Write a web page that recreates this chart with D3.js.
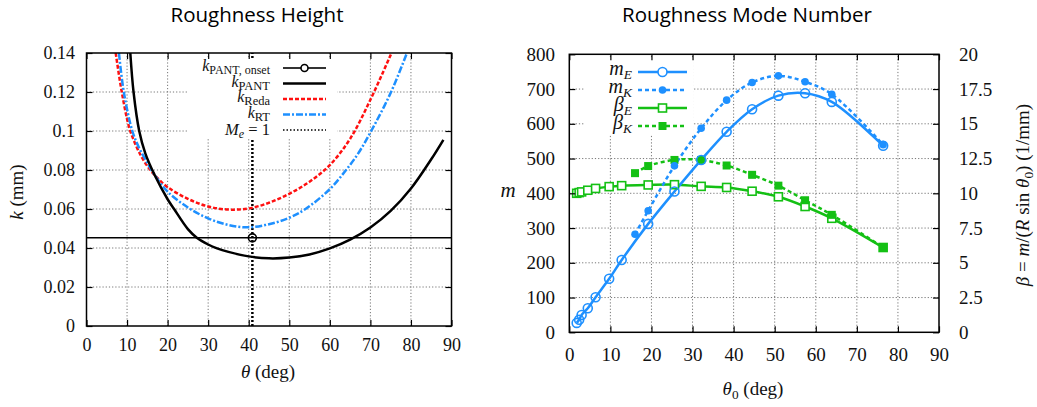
<!DOCTYPE html>
<html><head><meta charset="utf-8">
<script src="https://cdn.jsdelivr.net/npm/d3@7"></script>
<style>body{margin:0;background:#fff}</style>
</head><body>
<svg id="c" width="1037" height="407" xmlns="http://www.w3.org/2000/svg"></svg>
<script>
// ---------- DATA: Roughness Height ----------
const thetaPANT = [10.8, 11.6, 13, 14.5, 16.8, 20, 21.6, 25, 27.2, 30, 32.2, 35, 40, 45, 50, 55, 60, 65, 70, 75, 80, 85, 88];
const kPANT     = [0.14, 0.12, 0.10, 0.0885, 0.0774, 0.0650, 0.0600, 0.0497, 0.0453, 0.0418, 0.0398, 0.0380, 0.0357, 0.0347, 0.0351, 0.0367, 0.0398, 0.0443, 0.0505, 0.0590, 0.0705, 0.0855, 0.0955];
const thetaReda = [7.2, 8.7, 10.5, 12, 13.5, 15, 16.8, 20, 25, 30, 35, 40, 45, 50, 55, 60, 65, 70, 75.2];
const kReda     = [0.14, 0.12, 0.102, 0.0935, 0.087, 0.082, 0.0774, 0.0712, 0.0652, 0.0613, 0.0597, 0.0603, 0.0632, 0.0678, 0.0740, 0.0825, 0.0960, 0.1160, 0.14];
const thetaRT   = [8.0, 9.2, 11.3, 13, 14.5, 16.8, 20, 25, 30, 35, 40, 45, 50, 54, 60, 64, 67, 70.2, 75.1, 79];
const kRT       = [0.14, 0.12, 0.10, 0.0912, 0.0855, 0.0774, 0.0689, 0.0608, 0.0552, 0.0518, 0.0506, 0.0522, 0.0555, 0.0600, 0.0702, 0.0800, 0.0885, 0.1000, 0.1200, 0.14];
const kOnset = 0.0452;
const thetaOnset = 40.9;
const xTicksL = [0, 10, 20, 30, 40, 50, 60, 70, 80, 90];
const xTickLabelsL = ["0","10","20","30","40","50","60","70","80","90"];
const yTicksL = [0, 0.02, 0.04, 0.06, 0.08, 0.1, 0.12, 0.14];
const yTickLabelsL = ["0","0.02","0.04","0.06","0.08","0.1","0.12","0.14"];

// ---------- DATA: Roughness Mode Number ----------
const thetaE = [1.8, 2.4, 3.0, 4.5, 6.4, 9.7, 12.75, 19.2, 25.6, 32.1, 38.3, 44.5, 50.9, 57.4, 63.9, 76.4];
const mE     = [27, 36, 50, 69, 101, 154, 208, 312, 405, 496, 577, 642, 681, 688, 663, 537];
const betaE  = [10.0, 10.05, 10.1, 10.22, 10.35, 10.48, 10.55, 10.6, 10.62, 10.5, 10.42, 10.15, 9.75, 9.05, 8.2, 6.1];
const thetaK = [16.0, 19.2, 25.6, 32.1, 38.3, 44.5, 50.9, 57.4, 63.9, 76.4];
const mK     = [282, 350, 479, 587, 668, 719, 738, 721, 685, 540];
const betaK  = [11.45, 11.96, 12.4, 12.4, 12.0, 11.33, 10.55, 9.5, 8.45, 6.1];
const xTicksR = [0, 10, 20, 30, 40, 50, 60, 70, 80, 90];
const xTickLabelsR = ["0","10","20","30","40","50","60","70","80","90"];
const yTicksR = [0, 100, 200, 300, 400, 500, 600, 700, 800];
const yTickLabelsR = ["0","100","200","300","400","500","600","700","800"];
const y2TicksR = [0, 2.5, 5, 7.5, 10, 12.5, 15, 17.5, 20];
const y2TickLabelsR = ["0","2.5","5","7.5","10","12.5","15","17.5","20"];

// ---------- STYLE ----------
const SERIF = "'Liberation Serif', 'Times New Roman', serif";
const SANS = "'Open Sans', Lato, sans-serif";
const BLUE = "#1e90ff", RED = "#ff1010", GREEN = "#14c014", GRID = "#666";
const svg = d3.select("#c");
const zip = (a, b) => a.map((v, i) => [v, b[i]]);

function serifText(sel, size) {
  sel.attr("font-family", SERIF).style("font-family", SERIF)
    .attr("font-size", size).style("font-size", size + "px").attr("fill", "#111");
}

function richText(g, x, y, parts, size, anchor, transform) {
  const t = g.append("text").attr("x", x).attr("y", y).attr("text-anchor", anchor || "start");
  serifText(t, size);
  if (transform) t.attr("transform", transform);
  let shift = 0;
  parts.forEach(p => {
    const ts = t.append("tspan").text(p.t);
    if (p.i) ts.style("font-style", "italic");
    const want = p.sub ? (p.d != null ? p.d : 0.22 * size) : 0;
    const dy = want - shift;
    if (dy !== 0) ts.attr("dy", dy);
    shift = want;
    if (p.sub) ts.style("font-size", (p.fs || size * 0.7) + "px");
  });
  return t;
}

function grid(g, x, y, xt, yt) {
  const [x0, x1] = x.range(), [y0, y1] = y.range();
  g.append("g").selectAll("line").data(xt.filter(d => d > xt[0] && d < xt[xt.length - 1])).join("line")
    .attr("x1", d => x(d)).attr("x2", d => x(d)).attr("y1", y0).attr("y2", y1)
    .attr("stroke", GRID).attr("stroke-width", 0.9).attr("stroke-dasharray", "1.2,2");
  g.append("g").selectAll("line").data(yt.filter(d => d > yt[0] && d < yt[yt.length - 1])).join("line")
    .attr("y1", d => y(d)).attr("y2", d => y(d)).attr("x1", x0).attr("x2", x1)
    .attr("stroke", GRID).attr("stroke-width", 0.9).attr("stroke-dasharray", "1.2,2");
}

function ticksAndFrame(g, x, y, xt, xl, yt, yl, fs, padX, padY) {
  const [x0, x1] = x.range(), [y0, y1] = y.range();
  const ax = g.append("g").attr("transform", `translate(0,${y0})`)
    .call(d3.axisBottom(x).tickValues(xt).tickSize(-6).tickPadding(padX).tickFormat((d, i) => xl[i]));
  const ay = g.append("g").attr("transform", `translate(${x0},0)`)
    .call(d3.axisLeft(y).tickValues(yt).tickSize(-6).tickPadding(padY).tickFormat((d, i) => yl[i]));
  g.append("g").attr("transform", `translate(0,${y1})`)
    .call(d3.axisTop(x).tickValues(xt).tickSize(-6).tickFormat(""));
  [ax, ay].forEach(a => { serifText(a, fs); serifText(a.selectAll("text"), fs); });
  g.selectAll(".domain").remove();
  g.selectAll(".tick line").attr("stroke", "#000").attr("stroke-width", 1.2);
  g.append("rect").attr("x", x0).attr("y", y1).attr("width", x1 - x0).attr("height", y0 - y1)
    .attr("fill", "none").attr("stroke", "#000").attr("stroke-width", 1.5);
}

// ================= LEFT CHART =================
const xL = d3.scaleLinear().domain([0, 90]).range([86.5, 451.5]);
const yL = d3.scaleLinear().domain([0, 0.14]).range([326, 53]);
const gL = svg.append("g");
svg.append("text").attr("x", 257).attr("y", 21.5).attr("text-anchor", "middle")
  .style("font-family", SANS).style("font-size", "20.5px").attr("fill", "#000").text("Roughness Height");
grid(gL, xL, yL, xTicksL, yTicksL);

svg.append("defs").append("clipPath").attr("id", "clipL").append("rect")
  .attr("x", 86.5).attr("y", 53).attr("width", 365).attr("height", 273);
const lineL = d3.line().x(d => xL(d[0])).y(d => yL(d[1])).curve(d3.curveCatmullRom.alpha(0.5));
const pl = gL.append("g").attr("clip-path", "url(#clipL)");
pl.append("line").attr("x1", xL(0)).attr("x2", xL(90)).attr("y1", yL(kOnset)).attr("y2", yL(kOnset))
  .attr("stroke", "#000").attr("stroke-width", 1.5);
pl.append("line").attr("x1", xL(thetaOnset)).attr("x2", xL(thetaOnset)).attr("y1", yL(0)).attr("y2", yL(0.14))
  .attr("stroke", "#000").attr("stroke-width", 2.5).attr("stroke-dasharray", "2,2");
pl.append("path").attr("d", lineL(zip(thetaReda, kReda))).attr("fill", "none")
  .attr("stroke", RED).attr("stroke-width", 2.5).attr("stroke-dasharray", "4,2");
pl.append("path").attr("d", lineL(zip(thetaRT, kRT))).attr("fill", "none")
  .attr("stroke", BLUE).attr("stroke-width", 2.5).attr("stroke-dasharray", "7,2,2,2");
pl.append("path").attr("d", lineL(zip(thetaPANT, kPANT))).attr("fill", "none")
  .attr("stroke", "#000").attr("stroke-width", 2.5);
pl.append("circle").attr("cx", xL(thetaOnset)).attr("cy", yL(kOnset)).attr("r", 4)
  .attr("fill", "none").attr("stroke", "#000").attr("stroke-width", 1.6);

// legend left
const lgL = gL.append("g");
lgL.append("rect").attr("x", 188).attr("y", 58).attr("width", 149).attr("height", 80).attr("fill", "#fff");
const rowsL = [68, 83.5, 99, 114.5, 130];
const lx1 = 283, lx2 = 326, ltx = 270;
richText(lgL, ltx, rowsL[0] + 3, [{t: "k", i: 1}, {t: "PANT, onset", sub: 1, fs: 12, d: 3}], 16, "end");
richText(lgL, ltx, rowsL[1] + 3, [{t: "k", i: 1}, {t: "PANT", sub: 1, fs: 12.5, d: 3}], 16, "end");
richText(lgL, ltx, rowsL[2] + 3, [{t: "k", i: 1}, {t: "Reda", sub: 1, fs: 12.5, d: 3}], 16, "end");
richText(lgL, ltx, rowsL[3] + 3, [{t: "k", i: 1}, {t: "RT", sub: 1, fs: 12.5, d: 3}], 16, "end");
richText(lgL, ltx, rowsL[4] + 5, [{t: "M", i: 1}, {t: "e", i: 1, sub: 1, fs: 12, d: 3}, {t: " = 1"}], 16.5, "end");
lgL.append("line").attr("x1", lx1).attr("x2", lx2).attr("y1", rowsL[0]).attr("y2", rowsL[0]).attr("stroke", "#333").attr("stroke-width", 2);
lgL.append("circle").attr("cx", (lx1 + lx2) / 2).attr("cy", rowsL[0]).attr("r", 3.5).attr("fill", "#fff").attr("stroke", "#000").attr("stroke-width", 1.6);
lgL.append("line").attr("x1", lx1).attr("x2", lx2).attr("y1", rowsL[1]).attr("y2", rowsL[1]).attr("stroke", "#000").attr("stroke-width", 2.5);
lgL.append("line").attr("x1", lx1).attr("x2", lx2).attr("y1", rowsL[2]).attr("y2", rowsL[2]).attr("stroke", RED).attr("stroke-width", 2.5).attr("stroke-dasharray", "4,2");
lgL.append("line").attr("x1", lx1).attr("x2", lx2).attr("y1", rowsL[3]).attr("y2", rowsL[3]).attr("stroke", BLUE).attr("stroke-width", 2.5).attr("stroke-dasharray", "7,2,2,2");
lgL.append("line").attr("x1", lx1).attr("x2", lx2).attr("y1", rowsL[4]).attr("y2", rowsL[4]).attr("stroke", "#000").attr("stroke-width", 1.5).attr("stroke-dasharray", "1.5,2");

ticksAndFrame(gL, xL, yL, xTicksL, xTickLabelsL, yTicksL, yTickLabelsL, 18, 12, 11.5);
gL.append("g").attr("transform", `translate(${xL(90)},0)`)
  .call(d3.axisRight(yL).tickValues(yTicksL).tickSize(-6).tickFormat(""))
  .call(a => { a.select(".domain").remove(); a.selectAll("line").attr("stroke", "#000").attr("stroke-width", 1.2); });

richText(svg, 0, 0, [{t: "k", i: 1}, {t: " (mm)"}], 19, "middle", "translate(23,192) rotate(-90)");
richText(svg, 268, 378, [{t: "θ", i: 1}, {t: " (deg)"}], 19, "middle");

// ================= RIGHT CHART =================
const xR = d3.scaleLinear().domain([0, 90]).range([569.3, 939]);
const yR = d3.scaleLinear().domain([0, 800]).range([332.3, 54.3]);
const yB = d3.scaleLinear().domain([0, 20]).range([332.3, 54.3]);
const gR = svg.append("g");
svg.append("text").attr("x", 747).attr("y", 21.5).attr("text-anchor", "middle")
  .style("font-family", SANS).style("font-size", "20.5px").attr("fill", "#000").text("Roughness Mode Number");
grid(gR, xR, yR, xTicksR, yTicksR);

const lineM = d3.line().x(d => xR(d[0])).y(d => yR(d[1])).curve(d3.curveCatmullRom.alpha(0.5));
const lineB = d3.line().x(d => xR(d[0])).y(d => yB(d[1])).curve(d3.curveCatmullRom.alpha(0.5));
const pr = gR.append("g");
pr.append("path").attr("d", lineB(zip(thetaK, betaK))).attr("fill", "none").attr("stroke", GREEN).attr("stroke-width", 2.5).attr("stroke-dasharray", "4,3");
pr.append("path").attr("d", lineB(zip(thetaE, betaE))).attr("fill", "none").attr("stroke", GREEN).attr("stroke-width", 2.5);
pr.append("path").attr("d", lineM(zip(thetaK, mK))).attr("fill", "none").attr("stroke", BLUE).attr("stroke-width", 2.5).attr("stroke-dasharray", "4,3");
pr.append("path").attr("d", lineM(zip(thetaE, mE))).attr("fill", "none").attr("stroke", BLUE).attr("stroke-width", 2.5);
const SQ = 8;
pr.append("g").selectAll("rect").data(zip(thetaE, betaE)).join("rect")
  .attr("x", d => xR(d[0]) - SQ / 2).attr("y", d => yB(d[1]) - SQ / 2).attr("width", SQ).attr("height", SQ)
  .attr("fill", "#fff").attr("stroke", GREEN).attr("stroke-width", 1.6);
pr.append("g").selectAll("rect").data(zip(thetaK, betaK)).join("rect")
  .attr("x", d => xR(d[0]) - SQ / 2).attr("y", d => yB(d[1]) - SQ / 2).attr("width", SQ).attr("height", SQ)
  .attr("fill", GREEN);
pr.append("g").selectAll("circle").data(zip(thetaE, mE)).join("circle")
  .attr("cx", d => xR(d[0])).attr("cy", d => yR(d[1])).attr("r", 4.5)
  .attr("fill", "none").attr("stroke", BLUE).attr("stroke-width", 1.6);
pr.append("g").selectAll("circle").data(zip(thetaK, mK)).join("circle")
  .attr("cx", d => xR(d[0])).attr("cy", d => yR(d[1])).attr("r", 3.8).attr("fill", BLUE);

// legend right
const lgR = gR.append("g");
lgR.append("rect").attr("x", 585).attr("y", 58).attr("width", 108).attr("height", 77).attr("fill", "#fff");
const rowsR = [72, 90, 108, 126];
const rx1 = 638, rx2 = 687, rtx = 632, rmx = (rx1 + rx2) / 2;
richText(lgR, rtx, rowsR[0] + 3, [{t: "m", i: 1}, {t: "E", i: 1, sub: 1, fs: 13.5, d: 4}], 20, "end");
richText(lgR, rtx, rowsR[1] + 3, [{t: "m", i: 1}, {t: "K", i: 1, sub: 1, fs: 13.5, d: 4}], 20, "end");
richText(lgR, rtx, rowsR[2] + 3, [{t: "β", i: 1}, {t: "E", i: 1, sub: 1, fs: 13.5, d: 4}], 20, "end");
richText(lgR, rtx, rowsR[3] + 3, [{t: "β", i: 1}, {t: "K", i: 1, sub: 1, fs: 13.5, d: 4}], 20, "end");
lgR.append("line").attr("x1", rx1).attr("x2", rx2).attr("y1", rowsR[0]).attr("y2", rowsR[0]).attr("stroke", BLUE).attr("stroke-width", 2.5);
lgR.append("circle").attr("cx", rmx).attr("cy", rowsR[0]).attr("r", 4.5).attr("fill", "#fff").attr("stroke", BLUE).attr("stroke-width", 1.6);
lgR.append("line").attr("x1", rx1).attr("x2", rx2).attr("y1", rowsR[1]).attr("y2", rowsR[1]).attr("stroke", BLUE).attr("stroke-width", 2.5).attr("stroke-dasharray", "4,3");
lgR.append("circle").attr("cx", rmx).attr("cy", rowsR[1]).attr("r", 3.8).attr("fill", BLUE);
lgR.append("line").attr("x1", rx1).attr("x2", rx2).attr("y1", rowsR[2]).attr("y2", rowsR[2]).attr("stroke", GREEN).attr("stroke-width", 2.5);
lgR.append("rect").attr("x", rmx - SQ / 2).attr("y", rowsR[2] - SQ / 2).attr("width", SQ).attr("height", SQ).attr("fill", "#fff").attr("stroke", GREEN).attr("stroke-width", 1.6);
lgR.append("line").attr("x1", rx1).attr("x2", rx2).attr("y1", rowsR[3]).attr("y2", rowsR[3]).attr("stroke", GREEN).attr("stroke-width", 2.5).attr("stroke-dasharray", "4,3");
lgR.append("rect").attr("x", rmx - SQ / 2).attr("y", rowsR[3] - SQ / 2).attr("width", SQ).attr("height", SQ).attr("fill", GREEN);

ticksAndFrame(gR, xR, yR, xTicksR, xTickLabelsR, yTicksR, yTickLabelsR, 19, 15, 14.3);
gR.append("g").attr("transform", `translate(${xR(90)},0)`)
  .call(d3.axisRight(yB).tickValues(y2TicksR).tickSize(-6).tickPadding(20).tickFormat((d, i) => y2TickLabelsR[i]))
  .call(a => {
    a.select(".domain").remove();
    a.selectAll("line").attr("stroke", "#000").attr("stroke-width", 1.2);
    serifText(a, 19);
    serifText(a.selectAll("text"), 19);
  });

richText(svg, 508, 197, [{t: "m", i: 1}], 21, "middle");
richText(svg, 753, 395, [{t: "θ", i: 1}, {t: "0", sub: 1, d: 4}, {t: " (deg)"}], 19, "middle");
richText(svg, 0, 0, [{t: "β", i: 1}, {t: " = "}, {t: "m", i: 1}, {t: "/("}, {t: "R", i: 1}, {t: " sin "}, {t: "θ", i: 1}, {t: "0", sub: 1, d: 4}, {t: ") (1/mm)"}], 19, "middle", "translate(1029,195) rotate(-90)");
</script>
</body></html>
